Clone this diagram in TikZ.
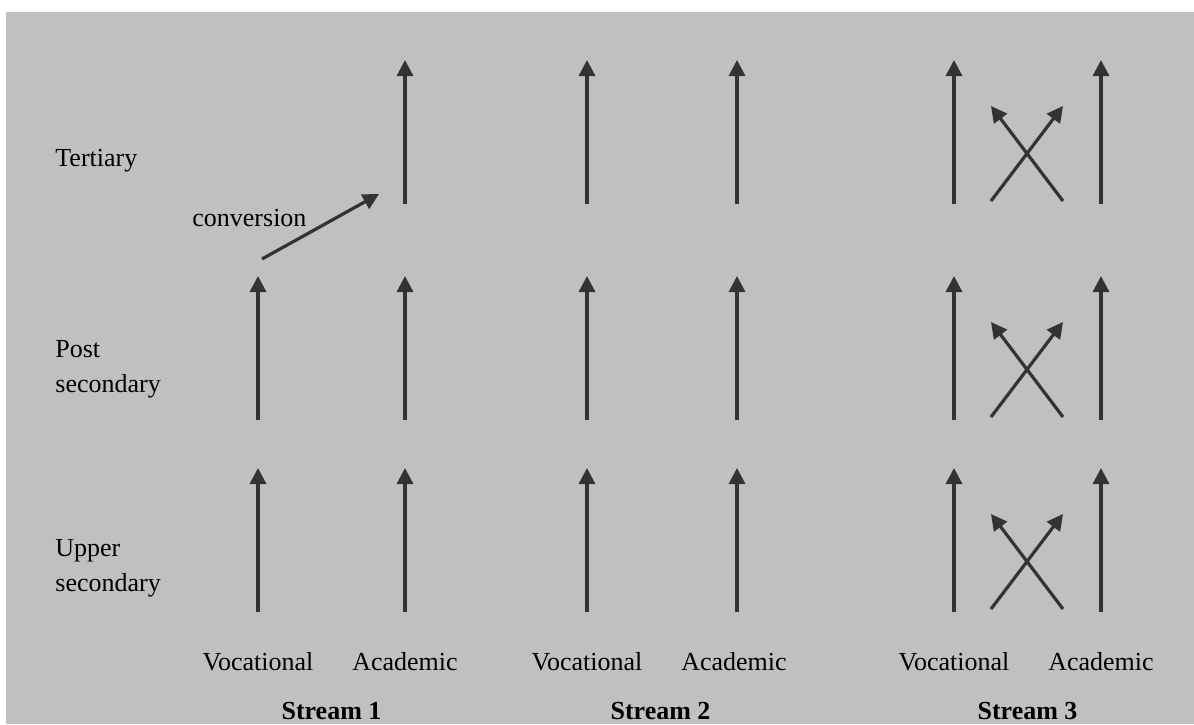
\documentclass[tikz,border=0pt]{standalone}
\usepackage{fontspec}
\setmainfont{Liberation Serif}
\usepackage{tikz}
\usetikzlibrary{arrows.meta,positioning}
\definecolor{panelgray}{RGB}{192,192,192}
\definecolor{arrowgray}{RGB}{51,51,51}
\tikzset{
    flow/.style={draw=arrowgray, line width=1.6pt, -{Triangle[length=8pt,width=8pt]}},
    lbl/.style={font=\fontsize{13}{17.5}\selectfont, inner sep=0pt},
    rowlbl/.style={lbl, anchor=base west, align=left},
    streamlbl/.style={font=\fontsize{13}{17.5}\selectfont\bfseries, inner sep=0pt}
}
\begin{document}
\begin{tikzpicture}[x=0.5pt,y=-0.5pt]
    \useasboundingbox (0,0) rectangle (1194,724);
    \fill[panelgray] (6,12) rectangle (1194,724);

    % levels
    \node[rowlbl] (tert) at (55,166) {Tertiary};
    \node[rowlbl] (post) at (55,392) {Post\\secondary};
    \node[rowlbl] (upper) at (55,591) {Upper\\secondary};

    % stream 1
    \foreach \y [count=\r from 2] in {420,612} {
        \foreach \x [count=\c] in {258,405} {
            \coordinate (a\r\c-b) at (\x,\y);
            \coordinate (a\r\c-t) at (\x,\y-144);
            \draw[flow] (a\r\c-b) -- (a\r\c-t);
        }
    }
    \coordinate (a12-b) at (405,204);
    \coordinate (a12-t) at (405,60);
    \draw[flow] (a12-b) -- (a12-t);
    \coordinate (conv-b) at (262,259);
    \coordinate (conv-t) at (379,194);
    \draw[flow] (conv-b) -- (conv-t);
    \node[lbl, anchor=base west] (conv) at (192,226) {conversion};

    % streams 2 and 3
    \foreach \y [count=\r] in {204,420,612} {
        \foreach \x [count=\c from 3] in {587,737,954,1101} {
            \coordinate (a\r\c-b) at (\x,\y);
            \coordinate (a\r\c-t) at (\x,\y-144);
            \draw[flow] (a\r\c-b) -- (a\r\c-t);
        }
        % switching in stream 3
        \coordinate (xl\r-b) at (991,\y-3);
        \coordinate (xl\r-t) at (1063,\y-98);
        \coordinate (xr\r-b) at (1063,\y-3);
        \coordinate (xr\r-t) at (991,\y-98);
        \draw[flow] (xl\r-b) -- (xl\r-t);
        \draw[flow] (xr\r-b) -- (xr\r-t);
    }

    % tracks and streams
    \foreach \x/\s [count=\k] in {258/1,587/2,954/3} {
        \node[lbl] (voc\k) at (\x,662) {Vocational};
        \node[lbl] (aca\k) at (\x+147,662) {Academic};
        \node[streamlbl] (stream\k) at (\x+73.5,711) {Stream \s};
    }
\end{tikzpicture}
\end{document}
